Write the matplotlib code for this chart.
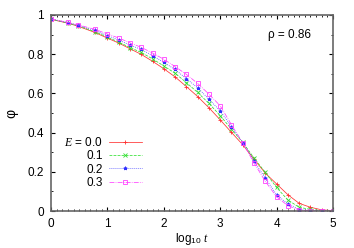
import matplotlib
matplotlib.use("Agg")
import matplotlib.pyplot as plt
from matplotlib.ticker import MultipleLocator

plt.rcParams["font.family"] = ["Liberation Sans", "DejaVu Sans"]
plt.rcParams["mathtext.fontset"] = "custom"
plt.rcParams["mathtext.rm"] = "Liberation Sans"
plt.rcParams["mathtext.it"] = "Liberation Serif:italic"

# ── Data ───────────────────────────────────────────────────────────────────────

log_t = [0.0, 0.301, 0.477, 0.778, 1.0, 1.2, 1.4, 1.6, 1.8, 2.0, 2.2, 2.4, 2.6,
         2.8, 3.0, 3.2, 3.4, 3.6, 3.8, 4.0, 4.2, 4.4, 4.6, 4.8, 5.0]

phi_e00 = [0.978, 0.958, 0.943, 0.911, 0.882, 0.857, 0.828, 0.799, 0.764, 0.726,
           0.684, 0.635, 0.584, 0.527, 0.465, 0.401, 0.338, 0.264, 0.193, 0.138,
           0.083, 0.039, 0.019, 0.006, 0.002]
phi_e01 = [0.979, 0.959, 0.945, 0.915, 0.887, 0.862, 0.834, 0.809, 0.776, 0.740,
           0.703, 0.655, 0.605, 0.549, 0.487, 0.417, 0.350, 0.270, 0.197, 0.120,
           0.056, 0.019, 0.008, 0.002, 0.000]
phi_e02 = [0.980, 0.961, 0.948, 0.921, 0.895, 0.872, 0.847, 0.824, 0.793, 0.758,
           0.722, 0.675, 0.629, 0.570, 0.511, 0.430, 0.349, 0.255, 0.167, 0.083,
           0.036, 0.007, 0.002, 0.000, 0.000]
phi_e03 = [0.980, 0.962, 0.950, 0.927, 0.903, 0.883, 0.858, 0.835, 0.806, 0.774,
           0.737, 0.697, 0.651, 0.596, 0.537, 0.440, 0.348, 0.245, 0.151, 0.073,
           0.027, 0.005, 0.001, 0.000, 0.000]

series = [
    ("$E$ = 0.0", phi_e00, "#ff3030", "-", "+"),
    ("0.1", phi_e01, "#30e030", "--", "x"),
    ("0.2", phi_e02, "#3030ff", ":", "*"),
    ("0.3", phi_e03, "#ff40ff", "-.", "s"),
]

# ── Figure ─────────────────────────────────────────────────────────────────────

fig = plt.figure(figsize=(3.54, 2.48), dpi=100)
fig.subplots_adjust(left=51 / 354, right=333 / 354, bottom=1 - 211 / 248, top=1 - 15 / 248)
ax = fig.add_subplot(111)

for label, y, color, ls, mk in series:
    ax.plot(log_t, y, color=color, linestyle=ls, linewidth=0.55, marker=mk,
            markersize=2.6, markeredgewidth=0.6,
            markerfacecolor="none" if mk == "s" else color, label=label)

ax.set_xlim(0, 5)
ax.set_ylim(0, 1)
ax.xaxis.set_major_locator(MultipleLocator(1))
ax.xaxis.set_minor_locator(MultipleLocator(0.1))
ax.yaxis.set_major_locator(MultipleLocator(0.2))
ax.yaxis.set_minor_locator(MultipleLocator(0.1))
ax.set_xticklabels([f"{v:g}" for v in ax.get_xticks()])
ax.set_yticklabels([f"{v:g}" for v in ax.get_yticks()])

ax.tick_params(which="both", direction="in", top=True, right=True, labelsize=8.5, pad=5)
ax.tick_params(which="major", length=3, width=0.8)
ax.tick_params(which="minor", length=1.6, width=0.6)
for sp in ax.spines.values():
    sp.set_color("#666666")
    sp.set_linewidth(1.2)

ax.set_xlabel("log$_{10}$ $t$", fontsize=8.5, labelpad=1)
# gnuplot rotates the phi with the label, so it lies on its side
ax.set_ylabel("φ", fontsize=10, rotation=90, labelpad=12, va="center")
ax.text(0.846, 0.898, "ρ = 0.86", transform=ax.transAxes, fontsize=8.5,
        ha="center", va="center")

ax.legend(loc="center right", bbox_to_anchor=(0.352, 0.248), frameon=False,
          markerfirst=False, fontsize=8.5, handlelength=2.8, handletextpad=0.5,
          labelspacing=0.12, borderpad=0.2)

fig.savefig("out.png", dpi=100)
